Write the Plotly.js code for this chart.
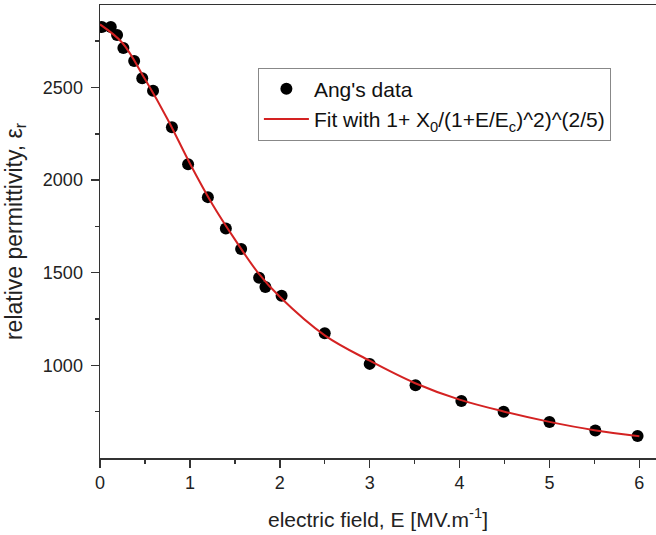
<!DOCTYPE html>
<html>
<head>
<meta charset="utf-8">
<script src="https://cdn.plot.ly/plotly-3.0.1.min.js"></script>
<style>html,body{margin:0;padding:0;background:#fff;}#chart{width:656px;height:535px;}</style>
</head>
<body>
<div id="chart"></div>
<script>
// Measured data points (Ang's data)
const dataE = [0.02, 0.12, 0.19, 0.26, 0.38, 0.47, 0.59, 0.80, 0.98, 1.20, 1.40, 1.57, 1.77, 1.84, 2.02, 2.50, 3.00, 3.51, 4.02, 4.49, 5.00, 5.51, 5.98];
const dataEps = [2826, 2826, 2783, 2713, 2643, 2550, 2482, 2285, 2085, 1908, 1739, 1628, 1473, 1423, 1376, 1173, 1008, 893, 808, 750, 694, 649, 619];

// Fit curve
const fitE = [0, 0.25, 0.5, 0.75, 1.0, 1.25, 1.5, 1.75, 2.0, 2.5, 3.0, 3.5, 4.0, 4.5, 5.0, 5.5, 6.0];
const fitEps = [2840, 2740, 2545, 2330, 2090, 1870, 1680, 1505, 1370, 1162, 1025, 905, 815, 750, 695, 650, 617];

const xTicks = [0, 1, 2, 3, 4, 5, 6];
const yTicks = [1000, 1500, 2000, 2500];
const xMinor = [0.5, 1.5, 2.5, 3.5, 4.5, 5.5];
const yMinor = [750, 1250, 1750, 2250, 2750];

const FONT = 'Liberation Sans, Arial, sans-serif';

const traces = [
  {
    x: dataE, y: dataEps, type: 'scatter', mode: 'markers',
    name: "Ang's data",
    marker: {color: '#000000', size: 12}
  },
  {
    x: fitE, y: fitEps, type: 'scatter', mode: 'lines',
    name: 'Fit with 1+ X<sub>0</sub>/(1+E/E<sub>c</sub>)^2)^(2/5)',
    line: {color: '#d42222', width: 2, shape: 'spline', smoothing: 1}
  }
];

const axisCommon = {
  showgrid: false, zeroline: false,
  showline: true, linecolor: '#333333', linewidth: 1.5,
  ticks: 'outside', ticklen: 8, tickwidth: 1.5, tickcolor: '#333333',
  tickfont: {family: FONT, size: 18, color: '#222222'}
};

const layout = {
  width: 656, height: 535,
  margin: {l: 100, r: 0, t: 5, b: 77},
  paper_bgcolor: '#ffffff', plot_bgcolor: '#ffffff',
  showlegend: true,
  legend: {
    x: 0.284, y: 0.862, xanchor: 'left', yanchor: 'top',
    bordercolor: '#888888', borderwidth: 1, bgcolor: '#ffffff',
    itemwidth: 45, tracegroupgap: 0,
    font: {family: FONT, size: 21, color: '#111111'}
  },
  xaxis: Object.assign({}, axisCommon, {
    range: [0, 6.185],
    tickvals: xTicks, ticktext: xTicks.map(String),
    mirror: true,
    minor: {tickvals: xMinor, ticklen: 4, ticks: 'outside', tickwidth: 1.5, tickcolor: '#333333'},
    title: {text: 'electric field, E [MV.m<sup>-1</sup>]', font: {family: FONT, size: 21, color: '#222222'}, standoff: 20}
  }),
  yaxis: Object.assign({}, axisCommon, {
    range: [500, 2945],
    tickvals: yTicks, ticktext: yTicks.map(String),
    ticklabelstandoff: 4,
    minor: {tickvals: yMinor, ticklen: 4, ticks: 'outside', tickwidth: 1.5, tickcolor: '#333333'},
    title: {text: 'relative permittivity, ε<sub>r</sub>', font: {family: FONT, size: 23, color: '#222222'}, standoff: 14}
  })
};

Plotly.newPlot('chart', traces, layout, {displayModeBar: false, staticPlot: true});
</script>
</body>
</html>
